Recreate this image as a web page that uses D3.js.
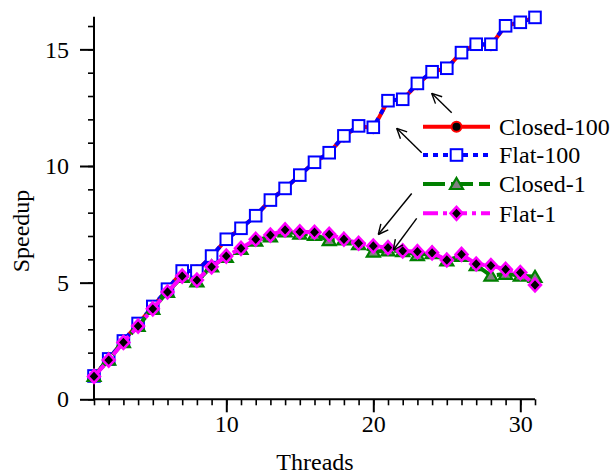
<!DOCTYPE html>
<html><head><meta charset="utf-8">
<script src="https://cdn.jsdelivr.net/npm/d3@7"></script>
<style>body{margin:0;background:#fff}svg{display:block}text{font-family:"Liberation Serif","Times New Roman",serif;fill:#000}</style>
</head><body><svg id="c" width="613" height="474"></svg>
<script>
const threads = d3.range(1, 32);
const closed100 = [1.0,1.72,2.5,3.24,3.97,4.71,5.48,5.52,6.12,6.86,7.33,7.87,8.54,9.04,9.61,10.16,10.57,11.27,11.72,11.62,12.80,12.86,13.50,14.04,14.19,14.88,15.22,15.18,16.01,16.16,16.37];
const flat100   = [1.0,1.73,2.5,3.25,3.98,4.72,5.5,5.5,6.14,6.86,7.33,7.87,8.54,9.04,9.61,10.16,10.57,11.29,11.72,11.66,12.80,12.86,13.54,14.04,14.19,14.86,15.22,15.22,16.01,16.16,16.37];
const closed1   = [1.0,1.7,2.45,3.15,3.88,4.6,5.25,5.05,5.7,6.1,6.45,6.8,6.98,7.2,7.1,7.05,6.82,6.85,6.65,6.33,6.38,6.35,6.18,6.27,5.95,6.15,5.75,5.3,5.38,5.3,5.25];
const flat1     = [0.98,1.68,2.44,3.14,3.88,4.6,5.28,5.11,5.68,6.14,6.47,6.86,7.04,7.26,7.18,7.16,7.07,6.86,6.69,6.57,6.50,6.36,6.33,6.28,5.97,6.21,5.80,5.73,5.57,5.43,4.90];
const yTicks = [0,5,10,15];
const xTicks = [10,20,30];
const legendNames = ["Closed-100","Flat-100","Closed-1","Flat-1"];

const FS = 24;
const svg = d3.select("#c");
const x = d3.scaleLinear().domain([1,31]).range([94,535]);
const y = d3.scaleLinear().domain([0,16.4]).range([399.3,16.7]);

// axes
const gx = svg.append("g").attr("transform",`translate(0,${y(0)})`);
gx.call(d3.axisBottom(x).tickValues(d3.range(1,32)).tickSize(6).tickFormat(""));
gx.call(g=>g.select(".domain").remove());
gx.append("line").attr("x1",x(1)).attr("x2",x(31)).attr("stroke","#000").attr("stroke-width",2);
gx.selectAll(".tick line").attr("stroke-width",1.6);
const gxM = svg.append("g").attr("transform",`translate(0,${y(0)})`)
  .call(d3.axisBottom(x).tickValues(xTicks).tickSize(13).tickPadding(3).tickFormat(d3.format("d")));
gxM.select(".domain").remove();
gxM.selectAll(".tick line").attr("stroke-width",2);
gxM.selectAll("text").attr("font-size",FS).attr("font-family","Liberation Serif");

const gy = svg.append("g").attr("transform",`translate(${x(1)},0)`);
gy.call(d3.axisLeft(y).tickValues(d3.range(0,17)).tickSize(6).tickFormat(""));
gy.call(g=>g.select(".domain").remove());
gy.append("line").attr("y1",y(0)).attr("y2",y(16.4)).attr("stroke","#000").attr("stroke-width",2);
gy.selectAll(".tick line").attr("stroke-width",1.6);
const gyM = svg.append("g").attr("transform",`translate(${x(1)},0)`)
  .call(d3.axisLeft(y).tickValues(yTicks).tickSize(14).tickPadding(11).tickFormat(d3.format("d")));
gyM.select(".domain").remove();
gyM.selectAll(".tick line").attr("stroke-width",2);
gyM.selectAll("text").attr("font-size",FS).attr("font-family","Liberation Serif");

svg.append("text").attr("x",315).attr("y",470).attr("text-anchor","middle").attr("font-size",FS).text("Threads");
svg.append("text").attr("transform","translate(29,231) rotate(-90)").attr("text-anchor","middle").attr("font-size",FS).text("Speedup");

const styles = [
  {data:closed100,color:"#ff0000",dash:null,marker:"circle"},
  {data:flat100,color:"#0000ff",dash:"5,5",marker:"square"},
  {data:closed1,color:"#008000",dash:"22,6",marker:"triangle"},
  {data:flat1,color:"#ff00ff",dash:"15,5,4,5",marker:"diamond"}
];
const line = d3.line().x((d,i)=>x(threads[i])).y(d=>y(d));

function drawMarker(g, kind, cx, cy, color){
  if(kind==="circle"){
    g.append("circle").attr("cx",cx).attr("cy",cy).attr("r",5).attr("fill","#000").attr("stroke",color).attr("stroke-width",2);
  } else if(kind==="square"){
    g.append("rect").attr("x",cx-5.8).attr("y",cy-5.8).attr("width",11.6).attr("height",11.6).attr("fill","#fff").attr("stroke",color).attr("stroke-width",2);
  } else if(kind==="triangle"){
    g.append("path").attr("d",`M${cx},${cy-6}L${cx+6.5},${cy+5}L${cx-6.5},${cy+5}Z`).attr("fill","#808080").attr("stroke",color).attr("stroke-width",2.2);
  } else {
    g.append("path").attr("d",`M${cx},${cy-6.5}L${cx+6},${cy}L${cx},${cy+6.5}L${cx-6},${cy}Z`).attr("fill","#000").attr("stroke",color).attr("stroke-width",2.5);
  }
}

styles.forEach(s=>{
  const g = svg.append("g");
  g.append("path").datum(s.data).attr("d",line).attr("fill","none").attr("stroke",s.color).attr("stroke-width",4)
    .attr("stroke-dasharray",s.dash);
  s.data.forEach((v,i)=>drawMarker(g,s.marker,x(threads[i]),y(v),s.color));
});

// legend
const legY = [126.7,155,184,213.3];
styles.forEach((s,i)=>{
  const g = svg.append("g");
  g.append("line").attr("x1",423).attr("x2",490).attr("y1",legY[i]).attr("y2",legY[i]).attr("stroke",s.color).attr("stroke-width",4).attr("stroke-dasharray",s.dash);
  drawMarker(g,s.marker,456.5,legY[i],s.color);
  g.append("text").attr("x",499).attr("y",legY[i]).attr("dy","0.35em").attr("font-size",FS).text(legendNames[i]);
});

// arrows
const arrows = [[451.7,112.7,431.7,93.3],[421.7,152.7,396.7,128.3],[411.7,193.5,378.3,234.5],[416.7,218.3,393.3,250]];
arrows.forEach(([x1,y1,x2,y2])=>{
  svg.append("line").attr("x1",x1).attr("y1",y1).attr("x2",x2).attr("y2",y2).attr("stroke","#000").attr("stroke-width",1.4);
  const a = Math.atan2(y1-y2,x1-x2), L=11, h=0.45;
  [a+h,a-h].forEach(b=>svg.append("line").attr("x1",x2).attr("y1",y2).attr("x2",x2+L*Math.cos(b)).attr("y2",y2+L*Math.sin(b)).attr("stroke","#000").attr("stroke-width",1.4));
});
</script></body></html>
